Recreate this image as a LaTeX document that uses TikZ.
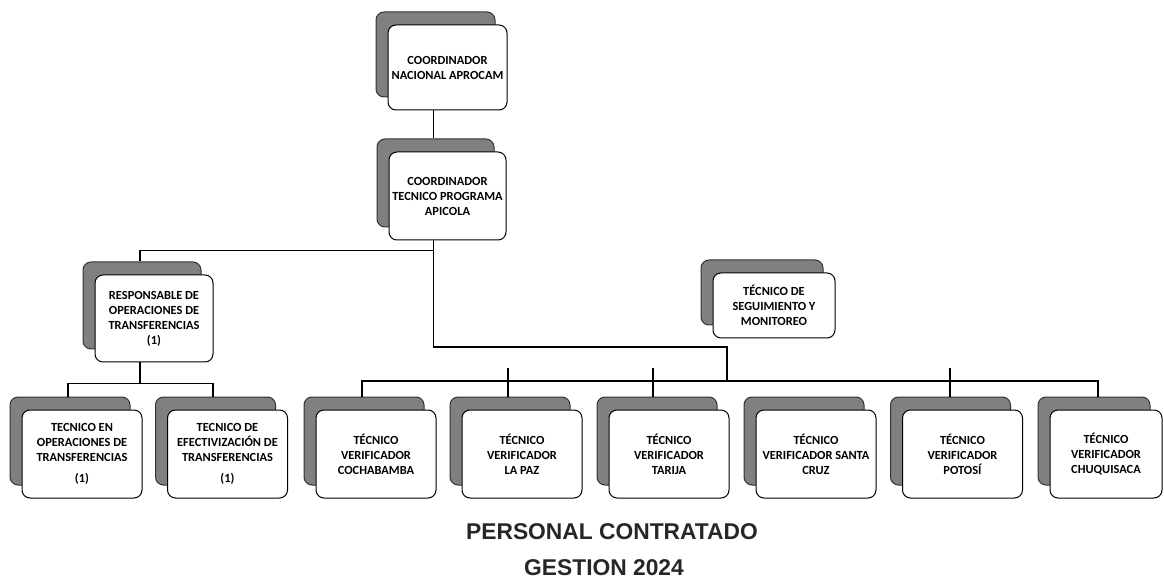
\documentclass[tikz,border=0pt]{standalone}
\usepackage{fontspec}
\setmainfont{Carlito}
\newfontfamily\titlefont{Liberation Sans}
\usetikzlibrary{shadows,calc}
\begin{document}
\begin{tikzpicture}[x=0.5pt,y=-0.5pt,
  box/.style={draw=black, line width=0.5pt, fill=white, rounded corners=4pt,
    align=center, inner sep=1pt,
    font=\bfseries\fontsize{6.2}{7.5}\selectfont,
    general shadow={shadow xshift=-6pt, shadow yshift=6.5pt, fill=black!50, draw=black!80, line width=0.5pt}},
  low/.style={box, minimum width=60pt, minimum height=44pt},
  conn/.style={draw=black, line width=0.6pt},
  ttl/.style={font=\titlefont\bfseries\fontsize{11.4}{13}\selectfont, text=black!85}]
\useasboundingbox (0,0) rectangle (1164,583);

% upper boxes
\node[box, minimum width=59.5pt, minimum height=42.5pt] (b1) at (447.5,67.5) {COORDINADOR\\NACIONAL APROCAM};
\node[box, minimum width=58.5pt, minimum height=44pt] (b2) at (447.5,196) {COORDINADOR\\TECNICO PROGRAMA\\APICOLA};
\node[box, minimum width=59pt, minimum height=43.5pt] (resp) at (154,318.5) {RESPONSABLE DE\\OPERACIONES DE\\TRANSFERENCIAS\\(1)};
\node[box, minimum width=61pt, minimum height=32.5pt] (seg) at (774,305.5) {TÉCNICO DE\\SEGUIMIENTO Y\\MONITOREO};

% bottom row
\node[low] (ta) at (82,454) {TECNICO EN\\OPERACIONES DE\\TRANSFERENCIAS\\[3pt](1)};
\node[low] (tb) at (227.5,454) {TECNICO DE\\EFECTIVIZACIÓN DE\\TRANSFERENCIAS\\[3pt](1)};
\node[low] (coch) at (376,454) {TÉCNICO\\VERIFICADOR\\COCHABAMBA};
\node[low] (lpz) at (522,454) {TÉCNICO\\VERIFICADOR\\LA PAZ};
\node[low] (tar) at (669,454) {TÉCNICO\\VERIFICADOR\\TARIJA};
\node[low] (scz) at (816,454) {TÉCNICO\\VERIFICADOR SANTA\\CRUZ};
\node[low] (pts) at (962.5,454) {TÉCNICO\\VERIFICADOR\\POTOSÍ};
\node[low, minimum width=56pt] (chq) at (1106,454) {TÉCNICO\\VERIFICADOR\\CHUQUISACA};

% connectors
\coordinate (j) at (727,347);
\coordinate (bus) at (727,381);
\draw[conn] ([xshift=-7pt]b1.south) -- ([xshift=-7pt,yshift=6.5pt]b2.north);
\draw[conn] ([xshift=-7pt]b2.south) -- ++(0,10) -| ([xshift=-7pt,yshift=6.5pt]resp.north);
\draw[conn] ([xshift=-7pt]b2.south) |- (j) -- (bus);
\draw[conn] ([xshift=-7pt,yshift=6.5pt]coch.north) |- (bus) -| ([xshift=-4pt,yshift=6.5pt]chq.north);
\draw[conn] ([xshift=-7pt,yshift=6.5pt]lpz.north) -- ([xshift=-7pt,yshift=6.5pt]lpz.north |- bus);
\draw[conn] ([xshift=-8pt,yshift=6.5pt]tar.north) -- ([xshift=-8pt,yshift=6.5pt]tar.north |- bus);
\draw[conn] ([xshift=-6.25pt,yshift=6.5pt]pts.north) -- ([xshift=-6.25pt,yshift=6.5pt]pts.north |- bus);
\draw[conn] ([xshift=-7pt]resp.south) -- ++(0,21) coordinate (lb);
\draw[conn] ([xshift=-7pt,yshift=6.5pt]ta.north) |- (lb) -| ([xshift=-7.25pt,yshift=6.5pt]tb.north);

% titles
\node[ttl] (t1) at (612,532) {PERSONAL CONTRATADO};
\node[ttl] (t2) at (604,568) {GESTION 2024};
\end{tikzpicture}
\end{document}
